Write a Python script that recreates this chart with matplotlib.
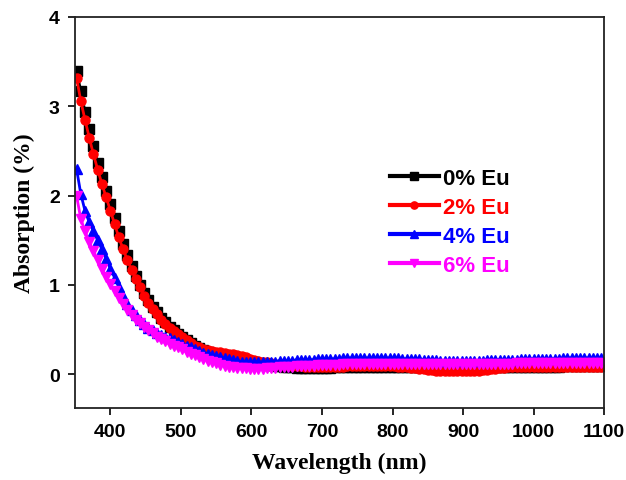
import numpy as np
from matplotlib import pyplot as plt

# wavelength grid (nm), one point every 6 nm
wl = np.arange(352, 1100, 6)

# absorption (%)
eu0 = [3.40, 3.17, 2.94, 2.74, 2.55, 2.37, 2.21, 2.05, 1.90,
       1.75, 1.60, 1.46, 1.33, 1.21, 1.10, 1.00, 0.91, 0.83,
       0.75, 0.69, 0.63, 0.58, 0.53, 0.49, 0.45, 0.41, 0.38,
       0.35, 0.32, 0.29, 0.27, 0.25, 0.23, 0.22, 0.21, 0.20,
       0.19, 0.18, 0.17, 0.16, 0.15, 0.14, 0.13, 0.12, 0.11,
       0.10, 0.10, 0.09, 0.09,
       0.08, 0.08, 0.08, 0.07, 0.07, 0.07, 0.07, 0.07, 0.07,
       0.07, 0.07, 0.07, 0.08, 0.08, 0.08, 0.08, 0.08, 0.08,
       0.08, 0.08, 0.08, 0.08, 0.08, 0.08, 0.08, 0.08,
       0.08, 0.08, 0.08, 0.08, 0.08, 0.08, 0.08, 0.08,
       0.08, 0.08, 0.07, 0.07, 0.07, 0.07, 0.07, 0.07,
       0.07, 0.07, 0.07, 0.07, 0.07, 0.08, 0.08, 0.08,
       0.08, 0.08, 0.08, 0.08, 0.08, 0.08, 0.08, 0.08,
       0.08, 0.08, 0.08, 0.08, 0.08, 0.08, 0.08, 0.08,
       0.09, 0.09, 0.09, 0.09, 0.09, 0.09, 0.09, 0.09, 0.09, 0.09]

eu2 = [3.32, 3.06, 2.85, 2.65, 2.46, 2.29, 2.13, 1.98, 1.83,
       1.68, 1.53, 1.40, 1.28, 1.17, 1.07, 0.97, 0.88, 0.80,
       0.73, 0.67, 0.61, 0.56, 0.52, 0.48, 0.45, 0.41, 0.38,
       0.35, 0.32, 0.30, 0.28, 0.27, 0.26, 0.25, 0.25, 0.24,
       0.23, 0.22, 0.21, 0.20, 0.19, 0.17, 0.16, 0.15, 0.14,
       0.13, 0.12, 0.11, 0.11,
       0.10, 0.10, 0.09, 0.09, 0.09, 0.08, 0.08, 0.08, 0.08,
       0.08, 0.08, 0.08, 0.08, 0.08, 0.08, 0.09, 0.09, 0.09,
       0.09, 0.09, 0.09, 0.09, 0.09, 0.09, 0.09, 0.09,
       0.09, 0.08, 0.08, 0.08, 0.07, 0.07, 0.06, 0.06,
       0.05, 0.05, 0.04, 0.04, 0.04, 0.03, 0.03, 0.03,
       0.03, 0.03, 0.03, 0.04, 0.04, 0.05, 0.05, 0.06,
       0.06, 0.07, 0.07, 0.08, 0.08, 0.08, 0.08, 0.08,
       0.08, 0.08, 0.08, 0.08, 0.08, 0.08, 0.08, 0.08,
       0.08, 0.08, 0.08, 0.08, 0.08, 0.08, 0.08, 0.08, 0.08, 0.08]

eu4 = [2.30, 2.02, 1.83, 1.70, 1.60, 1.50, 1.40, 1.29, 1.18,
       1.08, 0.97, 0.88, 0.79, 0.72, 0.66, 0.61, 0.56, 0.52,
       0.49, 0.46, 0.44, 0.42, 0.40, 0.38, 0.36, 0.34, 0.32,
       0.30, 0.28, 0.26, 0.24, 0.23, 0.21, 0.20, 0.19, 0.18,
       0.17, 0.16, 0.15, 0.14, 0.14, 0.13, 0.13, 0.13, 0.13,
       0.14, 0.14, 0.14, 0.15,
       0.15, 0.15, 0.15, 0.16, 0.16, 0.16, 0.16, 0.16, 0.17,
       0.17, 0.17, 0.17, 0.17, 0.17, 0.18, 0.18, 0.18, 0.18,
       0.18, 0.18, 0.18, 0.18, 0.18, 0.18, 0.18, 0.18,
       0.18, 0.18, 0.17, 0.17, 0.17, 0.17, 0.17, 0.16,
       0.16, 0.16, 0.16, 0.15, 0.15, 0.15, 0.15, 0.15,
       0.15, 0.15, 0.15, 0.15, 0.15, 0.15, 0.16, 0.16,
       0.16, 0.16, 0.16, 0.16, 0.16, 0.16, 0.17, 0.17,
       0.17, 0.17, 0.17, 0.17, 0.17, 0.17, 0.17, 0.17,
       0.18, 0.18, 0.18, 0.18, 0.18, 0.18, 0.18, 0.18, 0.18, 0.18]

eu6 = [2.00, 1.74, 1.60, 1.48, 1.38, 1.28, 1.18, 1.09, 1.01,
       0.93, 0.85, 0.78, 0.72, 0.66, 0.61, 0.57, 0.53, 0.49,
       0.46, 0.42, 0.39, 0.37, 0.34, 0.32, 0.30, 0.28, 0.25,
       0.23, 0.21, 0.19, 0.17, 0.15, 0.13, 0.12, 0.10, 0.09,
       0.08, 0.08, 0.07, 0.07, 0.07, 0.06, 0.06, 0.06, 0.06,
       0.07, 0.07, 0.07, 0.08,
       0.08, 0.08, 0.08, 0.09, 0.09, 0.09, 0.09, 0.09, 0.10,
       0.10, 0.10, 0.10, 0.10, 0.10, 0.11, 0.11, 0.11, 0.11,
       0.11, 0.11, 0.11, 0.11, 0.11, 0.11, 0.11, 0.11,
       0.11, 0.11, 0.11, 0.11, 0.11, 0.11, 0.11, 0.11,
       0.11, 0.11, 0.11, 0.11, 0.11, 0.11, 0.11, 0.11,
       0.11, 0.11, 0.11, 0.11, 0.11, 0.11, 0.11, 0.11,
       0.11, 0.11, 0.11, 0.11, 0.11, 0.12, 0.12, 0.12,
       0.12, 0.12, 0.12, 0.12, 0.12, 0.12, 0.12, 0.12,
       0.12, 0.12, 0.12, 0.12, 0.12, 0.12, 0.12, 0.12, 0.12, 0.12]

labels = ['0% Eu', '2% Eu', '4% Eu', '6% Eu']
colors = ['black', 'red', 'blue', 'magenta']
markers = ['s', 'o', '^', 'v']

xticks = [400, 500, 600, 700, 800, 900, 1000, 1100]
yticks = [0, 1, 2, 3, 4]

tickfont = {'family': 'Liberation Sans', 'weight': 'bold', 'size': 14}
labfont = {'family': 'Liberation Serif', 'weight': 'bold', 'size': 17}

fig = plt.figure(figsize=(6.26, 4.81), dpi=100)
ax = fig.add_axes([0.12, 0.1497, 0.845, 0.8129])

for ys, c, m, lab in zip([eu0, eu2, eu4, eu6], colors, markers, labels):
    ax.plot(wl, ys, color=c, marker=m, markersize=6.5, lw=2, label=lab)

ax.set_xlim(350, 1100)
ax.set_ylim(-0.38, 4)
ax.set_xticks(xticks)
ax.set_yticks(yticks)
ax.set_xticklabels([str(t) for t in xticks], fontdict=tickfont)
ax.set_yticklabels([str(t) for t in yticks], fontdict=tickfont)
ax.tick_params(direction='out', length=5, width=1.2, pad=6)

for s in ax.spines.values():
    s.set_linewidth(1.3)
    s.set_color('#222222')

ax.set_xlabel('Wavelength (nm)', fontdict=labfont, labelpad=8)
ax.set_ylabel('Absorption (%)', fontdict=labfont, labelpad=10)

leg = ax.legend(loc='upper left', bbox_to_anchor=(390 / 626, 1 - 169 / 481),
                bbox_transform=fig.transFigure, frameon=False, numpoints=1,
                handlelength=2.2, handletextpad=0.2, labelspacing=0.36,
                borderpad=0, borderaxespad=0, markerscale=0.8,
                prop={'family': 'Liberation Sans', 'weight': 'bold', 'size': 16})
for txt, c in zip(leg.get_texts(), colors):
    txt.set_color(c)
for ln in leg.get_lines():
    ln.set_linewidth(3)

plt.savefig('out.png', dpi=100)
